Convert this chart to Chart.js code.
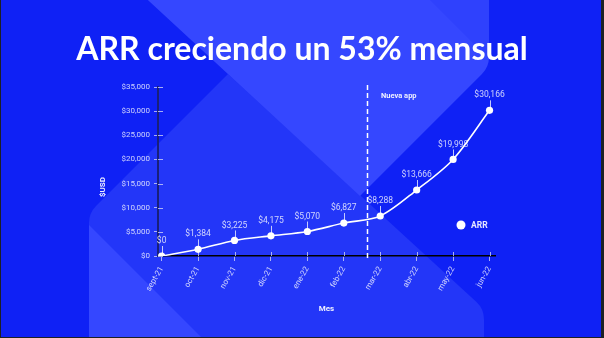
<!DOCTYPE html>
<html>
<head>
<meta charset="utf-8">
<script src="https://cdn.jsdelivr.net/npm/chart.js@4.4.0/dist/chart.umd.min.js"></script>
<style>
  html, body { margin: 0; padding: 0; background: #0f21f5; overflow: hidden; }
  #c { display: block; }
</style>
</head>
<body>
<canvas id="c" width="604" height="338"></canvas>
<script>
// Monthly ARR, Sept 2021 - Jun 2022
const months = ['sept-21', 'oct-21', 'nov-21', 'dic-21', 'ene-22', 'feb-22', 'mar-22', 'abr-22', 'may-22', 'jun-22'];
const arr = [0, 1384, 3225, 4175, 5070, 6827, 8288, 13666, 19998, 30166];
const yTicks = [0, 5000, 10000, 15000, 20000, 25000, 30000, 35000];
const launchAt = 5.64;            // new app release, between feb-22 and mar-22
const launchLabel = 'Nueva app';
const chartTitle = 'ARR creciendo un 53% mensual';
const xTitle = 'Mes';
const yTitle = '$USD';
const seriesName = 'ARR';

const money = v => '$' + Number(v).toLocaleString('en-US');
const LABEL = 'rgba(255,255,255,0.78)';
const TICK = 'rgba(205,210,245,0.8)';
const LIGHT = '#3547ff';
const MEDIUM = '#2336f8';

// polygon with optional rounded corners (radius per vertex)
function roundedPoly(ctx, pts, radii) {
  const n = pts.length;
  const a = pts[n - 1], b = pts[0];
  ctx.beginPath();
  ctx.moveTo((a[0] + b[0]) / 2, (a[1] + b[1]) / 2);
  for (let i = 0; i < n; i++) {
    const p = pts[i], q = pts[(i + 1) % n];
    ctx.arcTo(p[0], p[1], (p[0] + q[0]) / 2, (p[1] + q[1]) / 2, radii[i] || 0);
  }
  ctx.closePath();
}

// decorative slanted panels behind the chart
const backdrop = {
  id: 'backdrop',
  beforeDraw(chart) {
    const ctx = chart.ctx, w = chart.width, h = chart.height;
    ctx.save();
    ctx.fillStyle = '#0f21f5';
    ctx.fillRect(0, 0, w, h);

    // lower-left panel
    const lower = [[89, 213], [228, 74], [484, 309], [484, 420], [89, 420]];
    const lowerR = [24, 0, 24, 0, 0];
    roundedPoly(ctx, lower, lowerR);
    ctx.fillStyle = MEDIUM;
    ctx.fill();
    ctx.save();
    roundedPoly(ctx, lower, lowerR);
    ctx.clip();
    roundedPoly(ctx, [[89, 225], [89, 420], [284, 420]], [0, 0, 0]);
    ctx.fillStyle = LIGHT;
    ctx.fill();
    ctx.restore();

    // upper panel
    const upper = [[137, -10], [360, 196], [489, 67], [489, -10]];
    const upperR = [0, 0, 24, 0];
    roundedPoly(ctx, upper, upperR);
    ctx.fillStyle = LIGHT;
    ctx.fill();
    ctx.save();
    roundedPoly(ctx, upper, upperR);
    ctx.clip();
    roundedPoly(ctx, [[420, -10], [760, 330], [760, -10]], [0, 0, 0]);
    ctx.fillStyle = '#2f41fd';
    ctx.fill();
    ctx.restore();

    // frame edges
    ctx.fillStyle = '#1d1f26';
    ctx.fillRect(0, 0, 1, h);
    ctx.fillRect(w - 3, 0, 3, h);
    ctx.fillRect(0, h - 1, w, 1);
    ctx.restore();
  }
};

// inner tick stubs, leader lines, value labels, launch marker, legend, y title
const overlays = {
  id: 'overlays',
  beforeDatasetsDraw(chart) {
    const ctx = chart.ctx, area = chart.chartArea;
    const xs = chart.scales.x, ys = chart.scales.y;
    ctx.save();
    ctx.strokeStyle = TICK;
    ctx.lineWidth = 1;
    xs.ticks.forEach(t => {
      const x = Math.round(xs.getPixelForValue(t.value)) + 0.5;
      ctx.beginPath(); ctx.moveTo(x, area.bottom - 4); ctx.lineTo(x, area.bottom); ctx.stroke();
    });
    ys.ticks.forEach(t => {
      const y = Math.round(ys.getPixelForValue(t.value)) + 0.5;
      ctx.beginPath(); ctx.moveTo(area.left, y); ctx.lineTo(area.left + 5, y); ctx.stroke();
    });

    // launch marker
    const lx = Math.round(xs.getPixelForValue(launchAt)) + 0.5;
    ctx.strokeStyle = '#ffffff';
    ctx.lineWidth = 1.5;
    ctx.setLineDash([5, 3]);
    ctx.beginPath(); ctx.moveTo(lx, area.top - 2); ctx.lineTo(lx, area.bottom + 2); ctx.stroke();
    ctx.setLineDash([]);
    ctx.fillStyle = '#eef0ff';
    ctx.font = 'bold 7.5px Roboto';
    ctx.textBaseline = 'middle';
    ctx.textAlign = 'left';
    ctx.fillText(launchLabel, lx + 13.5, area.top + 9);

    // leader lines
    const meta = chart.getDatasetMeta(0);
    ctx.strokeStyle = 'rgba(225,229,255,0.85)';
    ctx.lineWidth = 1;
    meta.data.forEach(pt => {
      const x = Math.round(pt.x) + 0.5;
      ctx.beginPath(); ctx.moveTo(x, pt.y); ctx.lineTo(x, pt.y - 10); ctx.stroke();
    });
    ctx.restore();
  },
  afterDatasetsDraw(chart) {
    const ctx = chart.ctx, area = chart.chartArea;
    const meta = chart.getDatasetMeta(0);
    ctx.save();
    ctx.font = '8.5px Roboto';
    ctx.fillStyle = LABEL;
    ctx.textAlign = 'center';
    ctx.textBaseline = 'middle';
    meta.data.forEach((pt, i) => {
      ctx.fillText(money(arr[i]), pt.x, pt.y - 15);
    });

    // legend
    const ds = chart.data.datasets[0];
    const gx = area.right - 34, gy = area.top + 138;
    ctx.fillStyle = '#ffffff';
    ctx.beginPath(); ctx.arc(gx, gy, 4.5, 0, Math.PI * 2); ctx.fill();
    ctx.fillStyle = '#e4e7ff';
    ctx.font = 'bold 8.5px Roboto';
    ctx.textAlign = 'left';
    ctx.fillText(ds.label, gx + 10, gy + 0.5);

    // y axis title
    ctx.translate(103, area.bottom - 69);
    ctx.rotate(-Math.PI / 2);
    ctx.textAlign = 'center';
    ctx.fillStyle = '#eef0ff';
    ctx.font = 'bold 8px Roboto';
    ctx.fillText(yTitle, 0, 0);
    ctx.restore();
  }
};

new Chart(document.getElementById('c'), {
  type: 'line',
  data: {
    datasets: [{
      label: seriesName,
      data: arr.map((v, i) => ({ x: i, y: v })),
      xAxisID: 'x',
      yAxisID: 'y',
      borderColor: '#ffffff',
      borderWidth: 1.6,
      tension: 0.3,
      pointRadius: 3.6,
      pointBorderWidth: 0,
      pointBackgroundColor: '#ffffff',
      fill: false
    }]
  },
  options: {
    responsive: false,
    animation: false,
    events: [],
    layout: { padding: 0 },
    plugins: {
      legend: { display: false },
      tooltip: { enabled: false },
      title: {
        display: true,
        text: chartTitle,
        color: '#ffffff',
        font: { family: 'Lato', size: 32, weight: 'bold', lineHeight: 1.2 },
        padding: { top: 30, bottom: 18.6 }
      }
    },
    scales: {
      x: {
        type: 'linear',
        min: -0.1,
        max: 9.15,
        afterBuildTicks: s => { s.ticks = months.map((_, i) => ({ value: i })); },
        afterFit: s => { s.height = 82; },
        ticks: {
          callback: v => months[v],
          color: LABEL,
          font: { family: 'Roboto', size: 8 },
          minRotation: 60,
          maxRotation: 60,
          autoSkip: false,
          padding: 4
        },
        grid: { drawOnChartArea: false, drawTicks: true, tickLength: 5, color: TICK },
        border: { display: true, color: '#000000', width: 1.5 },
        title: {
          display: true,
          text: xTitle,
          color: '#eef0ff',
          font: { family: 'Roboto', size: 8, weight: 'bold' },
          padding: { top: 0, bottom: 24 }
        }
      },
      y: {
        min: 0,
        max: 35000,
        afterBuildTicks: s => { s.ticks = yTicks.map(v => ({ value: v })); },
        afterFit: s => { s.width = 158; },
        ticks: {
          callback: v => money(v),
          color: LABEL,
          font: { family: 'Roboto', size: 8 },
          padding: 4
        },
        grid: { drawOnChartArea: false, drawTicks: true, tickLength: 4, color: TICK },
        border: { display: true, color: '#18207a', width: 2 }
      },
      // empty right-hand gutter holding the legend space
      gutter: {
        type: 'linear',
        position: 'right',
        display: true,
        afterFit: s => { s.width = 109; },
        ticks: { display: false },
        grid: { display: false },
        border: { display: false }
      }
    }
  },
  plugins: [backdrop, overlays]
});
</script>
</body>
</html>
